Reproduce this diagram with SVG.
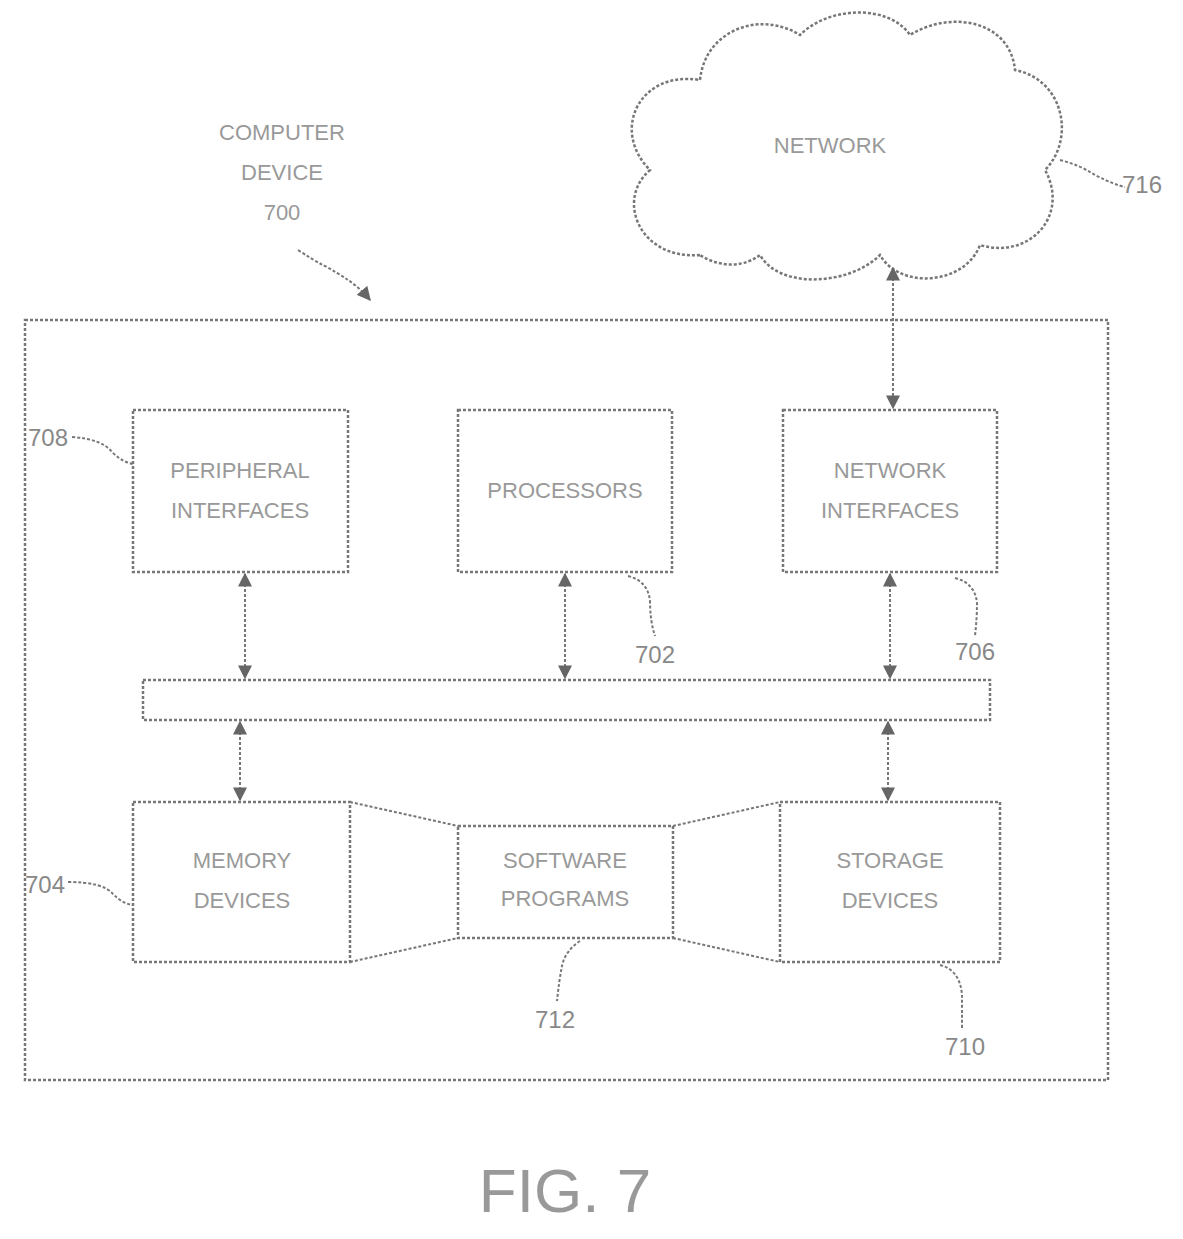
<svg xmlns="http://www.w3.org/2000/svg" width="1183" height="1239" viewBox="0 0 1183 1239">
<style>
.b{fill:none;stroke:#777;stroke-width:2.5;stroke-dasharray:3 2}
.l{fill:none;stroke:#777;stroke-width:2;stroke-dasharray:3 2}
.t{font-family:"Liberation Sans",Arial,sans-serif;font-size:22px;fill:#999;text-anchor:middle}
.n{font-family:"Liberation Sans",Arial,sans-serif;font-size:24px;fill:#888;text-anchor:middle}
</style>
<defs>
<marker id="a" viewBox="0 0 10 10" refX="9" refY="5" markerWidth="7" markerHeight="7" orient="auto-start-reverse"><path d="M0,0 L10,5 L0,10 z" fill="#666"/></marker>
</defs>
<rect width="1183" height="1239" fill="#fff"/>
<g id="device">
<rect class="b" x="25" y="320" width="1083" height="760"/>
<text class="t" x="282" y="140">COMPUTER</text>
<text class="t" x="282" y="180">DEVICE</text>
<text class="t" x="282" y="220">700</text>
<path class="l" d="M298,250 q15,10 25,15 q15,8 25,15 q12,8 22,20" marker-end="url(#a)"/>
</g>
<g id="network">
<path class="b" d="M700,255 C640,260 615,200 650,170 C610,130 640,70 700,80 C705,30 760,10 800,35 C830,5 890,5 910,35 C950,10 1010,20 1015,70 C1065,80 1075,140 1045,170 C1070,215 1030,260 980,245 C965,285 900,290 880,255 C850,285 780,290 760,255 C740,270 715,265 700,255 Z"/>
<text class="t" x="830" y="153">NETWORK</text>
<path class="l" d="M1060,160 q20,5 35,15 q20,10 30,12"/>
<text class="n" x="1142" y="193">716</text>
</g>
<g id="peripheral">
<rect class="b" x="133" y="410" width="215" height="162"/>
<text class="t" x="240" y="478">PERIPHERAL</text>
<text class="t" x="240" y="518">INTERFACES</text>
<text class="n" x="48" y="446">708</text>
<path class="l" d="M72,437 q30,2 40,15 q10,10 21,12"/>
</g>
<g id="processors">
<rect class="b" x="458" y="410" width="214" height="162"/>
<text class="t" x="565" y="498">PROCESSORS</text>
<text class="n" x="655" y="663">702</text>
<path class="l" d="M628,576 q20,5 22,25 q0,20 5,35"/>
</g>
<g id="netif">
<rect class="b" x="783" y="410" width="214" height="162"/>
<text class="t" x="890" y="478">NETWORK</text>
<text class="t" x="890" y="518">INTERFACES</text>
<text class="n" x="975" y="660">706</text>
<path class="l" d="M955,578 q20,5 22,25 q0,15 -2,33"/>
</g>
<g id="bus">
<rect class="b" x="143" y="680" width="847" height="40"/>
</g>
<g id="memory">
<rect class="b" x="133" y="802" width="217" height="160"/>
<text class="t" x="242" y="868">MEMORY</text>
<text class="t" x="242" y="908">DEVICES</text>
<text class="n" x="45" y="893">704</text>
<path class="l" d="M68,882 q35,0 45,12 q10,10 20,11"/>
</g>
<g id="software">
<rect class="b" x="458" y="826" width="215" height="112"/>
<text class="t" x="565" y="868">SOFTWARE</text>
<text class="t" x="565" y="906">PROGRAMS</text>
<text class="n" x="555" y="1028">712</text>
<path class="l" d="M580,941 q-15,10 -18,25 q-3,15 -5,35"/>
</g>
<g id="storage">
<rect class="b" x="780" y="802" width="220" height="160"/>
<text class="t" x="890" y="868">STORAGE</text>
<text class="t" x="890" y="908">DEVICES</text>
<text class="n" x="965" y="1055">710</text>
<path class="l" d="M940,965 q20,5 22,30 q0,15 0,35"/>
</g>
<g id="connectors">
<line class="l" x1="245" y1="574" x2="245" y2="678" marker-start="url(#a)" marker-end="url(#a)"/>
<line class="l" x1="565" y1="574" x2="565" y2="678" marker-start="url(#a)" marker-end="url(#a)"/>
<line class="l" x1="890" y1="574" x2="890" y2="678" marker-start="url(#a)" marker-end="url(#a)"/>
<line class="l" x1="240" y1="722" x2="240" y2="800" marker-start="url(#a)" marker-end="url(#a)"/>
<line class="l" x1="888" y1="722" x2="888" y2="800" marker-start="url(#a)" marker-end="url(#a)"/>
<line class="l" x1="893" y1="268" x2="893" y2="408" marker-start="url(#a)" marker-end="url(#a)"/>
<line class="l" x1="350" y1="802" x2="458" y2="826"/>
<line class="l" x1="350" y1="962" x2="458" y2="938"/>
<line class="l" x1="673" y1="826" x2="780" y2="802"/>
<line class="l" x1="673" y1="938" x2="780" y2="962"/>
</g>
<text x="565" y="1212" font-family="Liberation Sans,Arial,sans-serif" font-size="62" fill="#999" text-anchor="middle">FIG. 7</text>
</svg>
